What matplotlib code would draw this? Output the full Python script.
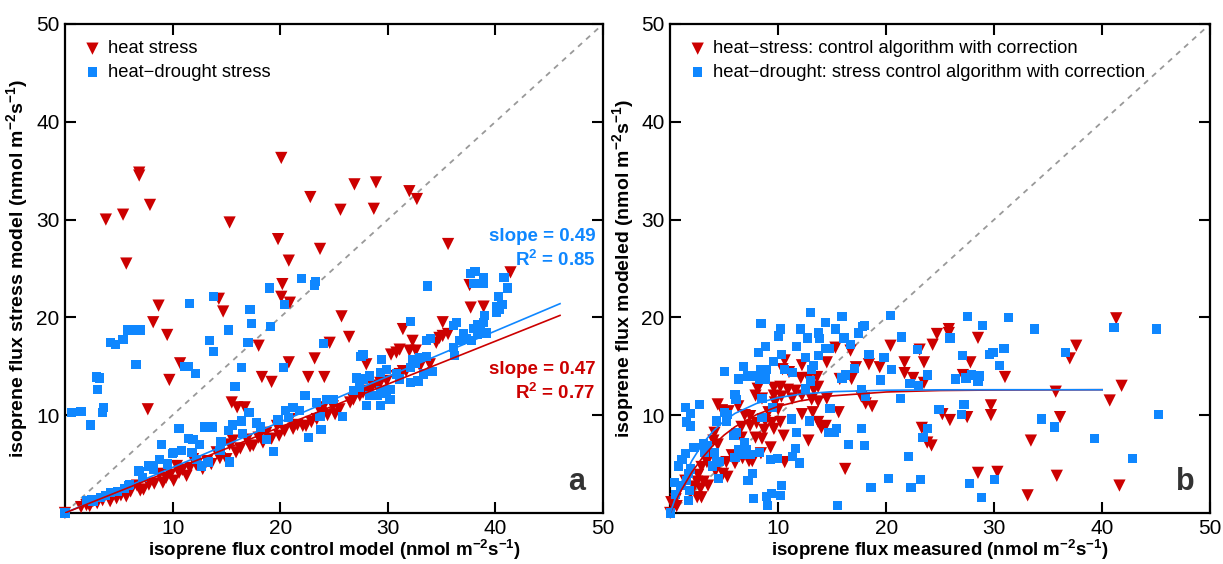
import matplotlib
matplotlib.use("Agg")
import matplotlib.pyplot as plt

plt.rcParams['font.family'] = ['Liberation Sans', 'DejaVu Sans']
plt.rcParams['mathtext.default'] = 'regular'

RED = '#cc0000'
BLUE = '#0f87ff'

# ---- panel a: stress model vs control model ----
a_heat = [
  (0, 0), (3.8, 30.0), (5.4, 30.5), (6.9, 34.8), (6.9, 34.5), (7.9, 31.5), (5.7, 25.5),
  (8.7, 21.2), (14.3, 21.9), (14.7, 20.6), (15.3, 29.7), (20.1, 36.3), (22.8, 32.3),
  (19.8, 28.0), (20.8, 25.8), (23.7, 27.0), (20.2, 23.4), (20.1, 22.1), (20.9, 21.5),
  (25.6, 31.0), (26.9, 33.6), (28.9, 33.8), (28.7, 31.1), (32.0, 32.9), (32.7, 32.1),
  (35.6, 27.5), (37.6, 23.3), (41.4, 24.6), (37.7, 21.0), (38.9, 21.1),
  (8.2, 19.5), (9.5, 18.2), (9.7, 13.6), (7.7, 10.6), (10.7, 15.3), (15.5, 11.3),
  (16.0, 10.8), (16.7, 10.8), (18.0, 17.1), (18.3, 13.9), (19.2, 13.4), (20.8, 15.4),
  (22.6, 13.9), (23.2, 15.8), (24.1, 13.9), (24.6, 17.4), (25.7, 20.1), (26.4, 18.0),
  (28.0, 15.2), (31.4, 18.8), (35.1, 19.5),
  (31.1, 16.7), (32.3, 17.6), (32.6, 16.6), (32.0, 16.6), (30.3, 16.2), (30.8, 16.4),
  (34.5, 17.4), (35.1, 18.1), (35.6, 18.3), (34.8, 17.9), (29.3, 13.3), (28.6, 13.0),
  (28.3, 12.5), (31.4, 14.5), (31.1, 14.2), (24.9, 10.9), (25.1, 10.1), (25.5, 10.6),
  (26.5, 11.3), (26.8, 11.6), (27.4, 12.0), (27.7, 12.3), (29.0, 13.0), (29.9, 13.5),
  (30.8, 14.0), (31.7, 14.5), (33.0, 15.0), (33.9, 15.2),
  (1.5, 0.6), (2.0, 0.8), (2.3, 0.7), (2.6, 1.2), (3.0, 1.0), (3.5, 1.3), (4.2, 1.2),
  (4.5, 1.9), (4.8, 1.5), (5.2, 1.8), (5.7, 1.7), (6.1, 2.2), (6.7, 2.8), (7.0, 2.3),
  (7.3, 2.4), (7.8, 2.9), (8.3, 3.0), (8.8, 4.0), (9.1, 3.1), (9.4, 3.6), (9.8, 3.9),
  (10.1, 3.3), (10.4, 4.8), (10.6, 4.1), (10.9, 4.4), (11.3, 3.8), (11.6, 4.6),
  (11.9, 5.5), (12.2, 4.9), (12.8, 4.5), (13.2, 5.3), (13.6, 5.0), (14.1, 6.2),
  (14.4, 5.6), (15.0, 5.5), (15.3, 7.0), (15.6, 7.4), (15.9, 6.2), (16.3, 6.6),
  (16.9, 7.5), (17.2, 6.8), (17.5, 6.9), (18.0, 7.7), (18.4, 7.2), (18.7, 8.2),
  (19.2, 7.6), (19.7, 8.9), (19.9, 7.9), (20.4, 8.4), (20.9, 9.6), (21.2, 8.6),
  (21.6, 9.0), (22.1, 8.9), (22.4, 8.9), (22.9, 9.3), (23.4, 9.6), (23.8, 10.2),
  (24.0, 10.8), (24.4, 10.0),
]
a_drought = [
  (0, 0), (11.6, 21.4), (13.8, 22.1), (17.2, 20.8), (19.0, 23.0), (20.4, 21.3),
  (22.0, 24.0), (23.3, 23.7), (23.2, 23.3), (33.7, 23.2), (37.7, 24.5), (38.1, 24.7),
  (38.9, 24.1), (38.9, 23.5), (38.0, 23.5), (40.8, 24.1), (41.1, 23.0), (40.3, 22.1),
  (40.1, 21.1),
  (0.6, 10.3), (1.5, 10.4), (2.4, 9.0), (2.9, 13.9), (3.2, 13.8), (3.0, 12.6), (3.6, 10.8),
  (3.5, 10.3), (4.2, 17.4), (4.7, 17.2), (5.4, 17.7), (5.8, 18.7), (6.6, 18.7), (7.0, 18.7),
  (6.6, 15.2), (13.4, 17.6), (13.8, 16.5), (17.3, 19.4), (15.2, 18.7), (19.1, 19.1),
  (17.0, 17.4), (16.4, 14.9), (15.8, 12.9), (11.1, 15.0), (11.5, 15.0), (12.1, 14.3),
  (20.3, 14.9), (24.0, 17.3), (27.5, 16.0), (29.4, 15.7), (32.1, 19.6), (33.6, 17.6),
  (2.0, 1.3), (2.5, 1.4), (2.6, 1.2), (3.3, 1.6), (3.8, 1.8), (4.2, 2.1), (4.9, 2.2),
  (5.5, 2.5), (5.9, 2.8), (6.0, 2.9), (6.8, 4.3), (6.9, 4.2), (7.2, 3.6), (7.8, 4.8),
  (7.9, 4.8), (8.2, 4.5), (8.8, 5.5), (9.0, 7.0), (9.5, 5.0), (10.0, 6.1), (10.1, 6.2),
  (10.6, 8.6), (10.8, 6.4), (11.5, 7.6), (11.8, 6.2), (11.9, 7.5), (12.2, 5.5),
  (12.5, 7.0), (12.7, 4.8), (13.0, 8.8), (13.3, 5.2), (13.7, 8.8), (14.4, 6.4),
  (14.5, 7.3), (15.2, 8.4), (15.3, 5.2), (15.6, 9.0), (16.4, 9.4), (16.5, 8.1),
  (17.1, 10.3), (17.8, 9.2), (18.2, 8.8), (18.7, 7.5), (19.4, 6.3), (19.8, 9.5),
  (20.5, 10.5), (20.8, 9.8), (21.2, 10.8), (21.8, 10.5), (22.3, 12.0), (22.6, 7.7),
  (23.8, 8.5), (23.4, 11.3), (24.3, 11.6), (23.7, 9.9), (25.8, 9.9), (24.9, 11.6),
  (27.7, 13.7), (28.3, 14.0), (29.3, 14.4), (29.9, 14.7), (30.8, 14.2), (31.1, 13.7),
  (32.1, 14.9), (32.6, 15.3), (33.0, 15.9), (33.6, 16.0), (34.1, 14.5), (32.3, 15.7),
  (33.3, 14.2), (32.8, 13.5), (32.1, 13.3), (27.1, 13.8), (27.4, 12.8), (26.8, 12.5),
  (28.3, 12.0), (29.0, 12.0), (29.3, 11.0), (28.0, 11.0), (29.9, 12.2), (30.2, 11.6),
  (30.2, 12.6), (29.3, 12.5),
  (36.1, 19.2), (36.4, 19.5), (37.0, 18.3), (37.3, 17.8), (38.0, 18.9), (38.3, 19.3),
  (38.6, 18.8), (38.9, 19.5), (39.0, 20.2), (37.8, 17.6), (36.7, 17.6), (36.2, 16.1),
  (36.1, 16.9), (38.3, 18.3), (39.2, 18.4), (40.1, 20.5), (40.4, 20.8), (40.6, 21.3),
  (27.7, 16.2), (34.0, 17.8),
]
a_fit_x = [0, 46]
a_fit_heat = [0, 20.2]
a_fit_drought = [0, 21.4]

# ---- panel b: modeled vs measured ----
b_heat = [
  (0, 0), (15.3, 16.9), (16.7, 16.6), (20.4, 17.1), (10.6, 15.6), (12.2, 15.1), (14.5, 15.4),
  (17.2, 14.9), (18.4, 15.2), (19.4, 14.9), (21.7, 15.4), (23.1, 16.7), (10.4, 14.7),
  (11.0, 14.4), (12.1, 13.8), (12.8, 13.8), (13.6, 13.9), (15.7, 13.7), (16.8, 13.7),
  (21.7, 14.3), (22.5, 13.8), (23.5, 13.3), (8.1, 12.7), (9.6, 12.8), (10.2, 12.9),
  (10.9, 12.6), (11.6, 12.5), (13.3, 12.6), (13.7, 12.9), (7.9, 12.0), (8.5, 11.7),
  (9.6, 12.0), (10.3, 11.9), (11.3, 11.7), (12.2, 12.0), (13.1, 11.6), (13.7, 11.4),
  (14.5, 11.7), (17.7, 11.9), (18.1, 11.2), (18.7, 10.9), (15.6, 10.3), (13.2, 10.3),
  (12.2, 10.1), (9.7, 11.3), (10.0, 10.6), (9.1, 10.3), (7.4, 9.9), (6.9, 10.0),
  (6.3, 10.9), (4.4, 11.1), (4.8, 10.5), (5.4, 10.4), (6.6, 8.8), (7.4, 8.9), (8.0, 9.2),
  (8.8, 9.4), (9.4, 9.2), (10.2, 9.3), (10.5, 7.9), (9.6, 8.6), (8.7, 8.5), (7.9, 7.7),
  (8.5, 7.6), (6.6, 7.7), (9.3, 6.7), (8.4, 6.1), (7.6, 5.3), (6.7, 5.6), (7.3, 5.3),
  (5.7, 5.9), (5.2, 5.2), (6.0, 5.1), (4.9, 4.0), (5.3, 3.7), (4.1, 8.2), (4.0, 7.4),
  (4.4, 7.0), (3.6, 5.9), (3.4, 5.2), (2.9, 4.7), (4.2, 4.3), (2.6, 3.9), (2.5, 3.2),
  (3.1, 3.2), (2.8, 2.5), (2.2, 2.7), (2.5, 1.6), (2.9, 1.6), (3.5, 2.8), (1.4, 3.3),
  (0.9, 2.5), (0.5, 1.4), (0.1, 1.1), (1.9, 2.1), (0.6, 0.7), (14.0, 8.7), (14.4, 8.9),
  (13.7, 9.3), (12.8, 7.4), (10.6, 5.2), (16.2, 4.5),
  (41.3, 19.9), (25.8, 18.8), (25.8, 18.4), (24.7, 18.3), (28.5, 17.9), (24.3, 17.2),
  (23.5, 15.4), (27.8, 15.4), (37.6, 17.1), (37.0, 15.8), (31.0, 13.9), (27.1, 14.1),
  (35.7, 12.4), (41.8, 13.0), (40.7, 11.5), (29.7, 11.0), (29.7, 10.0), (25.2, 10.1),
  (25.9, 9.5), (27.5, 9.8), (36.1, 9.8), (23.3, 8.7), (23.8, 7.2), (24.2, 6.9),
  (33.4, 7.4), (28.5, 4.1), (30.3, 4.2), (35.8, 3.8), (33.1, 1.8), (41.6, 2.8),
]
b_drought = [
  (0, 0), (13.0, 20.5), (15.9, 20.1), (20.4, 20.2), (8.4, 19.4), (10.2, 18.8), (10.0, 18.1),
  (12.1, 18.8), (13.7, 18.4), (13.8, 17.8), (14.4, 19.5), (15.3, 18.8), (12.7, 17.9),
  (16.1, 17.9), (17.4, 18.4), (18.0, 19.2), (17.8, 19.1), (16.7, 17.2), (11.7, 17.0),
  (8.8, 17.0), (8.2, 16.4), (10.3, 16.2), (13.7, 16.1), (14.4, 16.8), (14.7, 16.8),
  (12.5, 15.9), (9.6, 15.5), (6.8, 15.0), (5.0, 14.5), (6.3, 13.7), (7.2, 14.0),
  (7.9, 14.0), (8.4, 14.7), (8.9, 14.7), (8.3, 13.7), (8.8, 13.7), (10.6, 14.7),
  (11.3, 14.4), (13.1, 14.7), (13.3, 15.1), (13.0, 13.5), (12.5, 12.7), (16.2, 14.1),
  (15.9, 13.8), (17.1, 14.8), (18.4, 16.2), (19.8, 15.9), (19.5, 13.6), (20.5, 14.7),
  (21.4, 18.0), (22.9, 16.7), (22.2, 13.2), (23.0, 13.0), (23.8, 14.1), (17.7, 12.6),
  (18.1, 11.9), (21.3, 11.7), (8.5, 11.7), (6.1, 11.6), (6.0, 12.1), (5.0, 10.3),
  (5.3, 10.1), (4.3, 9.4), (5.2, 9.4), (1.4, 10.8), (1.9, 10.2), (2.7, 11.1), (1.5, 9.3),
  (1.9, 8.9), (9.5, 10.8), (8.5, 9.8), (11.2, 9.6), (12.9, 9.4), (14.8, 10.7),
  (15.4, 8.6), (15.2, 8.2), (14.7, 8.2), (16.5, 7.0), (17.7, 8.6), (18.0, 6.9),
  (11.7, 8.2), (11.6, 6.6), (11.3, 5.8), (12.0, 5.1), (9.3, 5.5), (9.9, 5.6), (8.3, 6.2),
  (6.1, 8.2), (5.9, 7.9), (6.9, 7.2), (7.1, 6.5), (6.3, 6.5), (6.6, 6.0), (7.4, 6.0),
  (6.0, 5.7), (3.1, 7.1), (3.4, 6.9), (2.2, 6.7), (3.2, 6.2), (4.1, 6.2), (1.4, 6.1),
  (1.1, 5.5), (0.8, 4.8), (1.9, 4.5), (3.9, 4.8), (4.3, 5.2), (4.5, 3.5), (4.6, 5.3),
  (1.7, 4.0), (0.4, 3.1), (1.0, 2.8), (1.5, 3.3), (1.8, 2.3), (1.7, 1.3), (0.5, 1.9),
  (7.2, 3.3), (7.6, 4.0), (7.7, 1.5), (8.9, 1.7), (9.4, 2.0), (9.0, 0.8), (10.2, 1.8),
  (10.3, 2.8), (15.5, 0.8), (18.6, 2.6), (20.2, 3.5), (22.3, 2.6), (23.2, 3.4),
  (22.1, 5.8),
  (27.5, 20.1), (28.9, 19.2), (31.3, 20.0), (33.7, 18.8), (41.1, 19.0), (45.0, 18.8),
  (25.9, 17.9), (27.1, 16.1), (29.6, 16.2), (29.9, 16.4), (30.9, 16.8), (30.5, 15.1),
  (36.6, 16.4), (26.4, 13.7), (27.4, 13.8), (27.9, 14.1), (28.6, 14.0), (28.5, 13.5),
  (24.9, 10.6), (27.2, 11.1), (27.0, 10.1), (34.4, 9.6), (35.6, 8.8), (45.2, 10.1),
  (23.8, 8.6), (23.4, 7.7), (39.3, 7.6), (42.8, 5.6), (27.7, 3.0), (30.0, 3.4),
  (28.8, 1.6),
]
b_fit_x = [0, 0.5, 1, 2, 3, 4, 5, 6, 8, 10, 12, 15, 20, 25, 30, 40]
b_fit_heat = [0, 1.2, 2.28, 4.16, 5.68, 6.94, 7.97, 8.81, 10.06, 10.9, 11.45, 11.97,
              12.37, 12.52, 12.57, 12.6]
b_fit_drought = [0, 1.62, 3.03, 5.33, 7.08, 8.40, 9.41, 10.18, 11.2, 11.79, 12.14, 12.4,
                 12.55, 12.59, 12.6, 12.6]


def style_axes(ax, xlabel, ylabel):
  ax.set_xlim(0, 50)
  ax.set_ylim(0, 50)
  ax.set_xticks([10, 20, 30, 40, 50])
  ax.set_yticks([10, 20, 30, 40, 50])
  ax.tick_params(direction='in', length=8, width=1.5, top=True, right=True,
                 labelsize=15, pad=4)
  for sp in ax.spines.values():
    sp.set_linewidth(1.6)
  ax.set_xlabel(xlabel, fontsize=13.5, fontweight='bold', labelpad=0)
  ax.set_ylabel(ylabel, fontsize=14, fontweight='bold', labelpad=4)
  ax.plot([0, 50], [0, 50], ls=(0, (3, 3)), color='#999999', lw=1.3, zorder=1)


def scatter(ax, pts, marker, color, size, label):
  xs = [p[0] for p in pts]
  ys = [p[1] for p in pts]
  ax.scatter(xs, ys, marker=marker, s=size, color=color, edgecolors='none',
             label=label, zorder=3, clip_on=False)


fig = plt.figure(figsize=(12.23, 5.64), dpi=100)
ax1 = fig.add_axes([0.0531, 0.0905, 0.440, 0.867])
ax2 = fig.add_axes([0.548, 0.0905, 0.4415, 0.867])

unit = ' (nmol m$^{-2}$s$^{-1}$)'
legend_kw = dict(loc='upper left', frameon=False, fontsize=13.2, handletextpad=0.25,
                 borderaxespad=0.5, labelspacing=0.35, handlelength=1.2)

# panel a
style_axes(ax1, 'isoprene flux control model' + unit, 'isoprene flux stress model' + unit)
scatter(ax1, a_heat, 'v', RED, 78, 'heat stress')
scatter(ax1, a_drought, 's', BLUE, 44, 'heat\u2212drought stress')
ax1.plot(a_fit_x, a_fit_drought, color=BLUE, lw=1.2, zorder=4)
ax1.plot(a_fit_x, a_fit_heat, color=RED, lw=1.2, zorder=4)
for y, s, c in [(28.3, 'slope = 0.49', BLUE), (25.9, 'R$^2$ = 0.85', BLUE),
                (14.7, 'slope = 0.47', RED), (12.3, 'R$^2$ = 0.77', RED)]:
  ax1.text(49.3, y, s, color=c, fontsize=13.5, fontweight='bold', ha='right', va='center')
ax1.text(47.5, 3.2, 'a', color='#333333', fontsize=22, fontweight='bold',
         ha='center', va='center')
ax1.legend(**legend_kw)

# panel b
style_axes(ax2, 'isoprene flux measured' + unit, 'isoprene flux modeled' + unit)
scatter(ax2, b_heat, 'v', RED, 78, 'heat\u2212stress: control algorithm with correction')
scatter(ax2, b_drought, 's', BLUE, 44,
        'heat\u2212drought: stress control algorithm with correction')
ax2.plot(b_fit_x, b_fit_heat, color=RED, lw=1.2, zorder=4)
ax2.plot(b_fit_x, b_fit_drought, color=BLUE, lw=1.2, zorder=4)
ax2.text(47.7, 3.2, 'b', color='#333333', fontsize=22, fontweight='bold',
         ha='center', va='center')
ax2.legend(**legend_kw)

fig.savefig('out.png', dpi=100)
